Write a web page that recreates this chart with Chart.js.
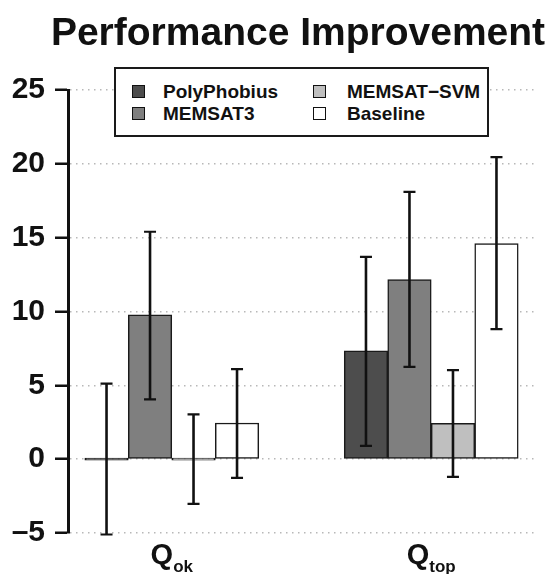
<!DOCTYPE html>
<html><head><meta charset="utf-8">
<script src="https://cdn.jsdelivr.net/npm/chart.js@4.4.1/dist/chart.umd.min.js"></script>
<style>
html,body{margin:0;padding:0;background:#fff;}
#wrap{position:relative;width:550px;height:574px;}
#legend{position:absolute;left:114px;top:67px;width:371px;height:66px;border:2px solid #1a1a1a;background:#fff;font:bold 19px "Liberation Sans",Arial,sans-serif;color:#111;}
#legend .txt{position:absolute;white-space:nowrap;line-height:19px;}
#legend .sw{position:absolute;width:11px;height:11px;border:1px solid #111;}
</style></head><body>
<div id="wrap"><canvas id="c"></canvas><div id="legend"></div></div>
<script>
const FONT = '"Liberation Sans", Arial, sans-serif';
const categoryLabels = ['Q', 'Q'];
const categorySubscripts = ['ok', 'top'];
const categoryPositions = [1, 2];
const seriesNames = ['PolyPhobius', 'MEMSAT3', 'MEMSAT\u2212SVM', 'Baseline'];
const seriesColors = ['#4d4d4d', '#7f7f7f', '#bfbfbf', '#ffffff'];
const polyPhobiusValues = [0, 7.33];
const polyPhobiusLower  = [-5.1, 0.9];
const polyPhobiusUpper  = [5.12, 13.7];
const memsat3Values = [9.78, 12.17];
const memsat3Lower  = [4.05, 6.25];
const memsat3Upper  = [15.4, 18.1];
const memsatSvmValues = [0, 2.42];
const memsatSvmLower  = [-3.03, -1.2];
const memsatSvmUpper  = [3.03, 6.03];
const baselineValues = [2.45, 14.6];
const baselineLower  = [-1.27, 8.8];
const baselineUpper  = [6.1, 20.45];
const yTickValues = [-5, 0, 5, 10, 15, 20, 25];
const yTickLabels = ['\u20135', '0', '5', '10', '15', '20', '25'];

const seriesValues = [polyPhobiusValues, memsat3Values, memsatSvmValues, baselineValues];
const seriesLower = [polyPhobiusLower, memsat3Lower, memsatSvmLower, baselineLower];
const seriesUpper = [polyPhobiusUpper, memsat3Upper, memsatSvmUpper, baselineUpper];

const datasets = seriesNames.map((name, i) => ({
  label: name,
  data: categoryPositions.map((x, j) => ({x: x, y: seriesValues[i][j]})),
  errLower: seriesLower[i],
  errUpper: seriesUpper[i],
  backgroundColor: seriesColors[i],
  borderColor: '#1a1a1a',
  borderWidth: 1.5,
  borderSkipped: false,
  barThickness: 43.5,
  minBarLength: 2
}));

const errorBars = {
  id: 'errorBars',
  afterDatasetsDraw(chart) {
    const ctx = chart.ctx, y = chart.scales.y;
    chart.data.datasets.forEach((ds, i) => {
      chart.getDatasetMeta(i).data.forEach((bar, j) => {
        const x = bar.x;
        const yl = y.getPixelForValue(ds.errLower[j]);
        const yu = y.getPixelForValue(ds.errUpper[j]);
        ctx.save();
        ctx.strokeStyle = '#111';
        ctx.lineWidth = 2.6;
        ctx.beginPath(); ctx.moveTo(x, yl); ctx.lineTo(x, yu); ctx.stroke();
        ctx.lineWidth = 2.2;
        ctx.beginPath();
        ctx.moveTo(x - 6, yl); ctx.lineTo(x + 6, yl);
        ctx.moveTo(x - 6, yu); ctx.lineTo(x + 6, yu);
        ctx.stroke();
        ctx.restore();
      });
    });
  }
};

const xLabels = {
  id: 'xLabels',
  afterDraw(chart) {
    const ctx = chart.ctx, xs = chart.scales.x;
    ctx.save();
    ctx.fillStyle = '#111';
    ctx.textBaseline = 'alphabetic';
    ctx.textAlign = 'left';
    categoryPositions.forEach((p, i) => {
      const cx = xs.getPixelForValue(p);
      ctx.font = 'bold 29px ' + FONT;
      const w1 = ctx.measureText(categoryLabels[i]).width;
      ctx.font = 'bold 17px ' + FONT;
      const w2 = ctx.measureText(categorySubscripts[i]).width;
      const start = cx - (w1 + w2) / 2;
      ctx.font = 'bold 29px ' + FONT;
      ctx.fillText(categoryLabels[i], start, 564);
      ctx.font = 'bold 17px ' + FONT;
      ctx.fillText(categorySubscripts[i], start + w1, 572);
    });
    ctx.restore();
  }
};

// centre the title over the plot region (as R does) instead of the whole canvas
const titleSpan = {
  id: 'titleSpan',
  afterLayout(chart) {
    const t = chart.titleBlock;
    if (t) { t.left = 50; t.right = 546; t.width = 496; }
  }
};

const chart = new Chart(document.getElementById('c'), {
  type: 'bar',
  data: {datasets: datasets},
  options: {
    responsive: true,
    maintainAspectRatio: false,
    animation: false,
    layout: {padding: {left: 2, right: 15, top: 0, bottom: 41}},
    plugins: {
      legend: {display: false},
      tooltip: {enabled: false},
      title: {
        display: true,
        text: 'Performance Improvement',
        color: '#111',
        font: {family: FONT, size: 39, weight: 'bold'},
        padding: {top: 11, bottom: 32.2}
      }
    },
    scales: {
      x: {type: 'linear', min: 0.6, max: 2.4, offset: false, display: false},
      y: {
        min: -5, max: 25,
        afterFit: (s) => { s.width = 66; },
        ticks: {
          stepSize: 5,
          autoSkip: false,
          callback: (v) => { const k = yTickValues.indexOf(Number(v)); return k >= 0 ? yTickLabels[k] : String(v); },
          font: {family: FONT, size: 30, weight: 'bold'},
          color: '#111',
          padding: 10
        },
        grid: {color: '#b8b8b8', lineWidth: 1.5, tickLength: 13, tickColor: '#111', tickWidth: 2.5, drawTicks: true},
        border: {display: true, color: '#111', width: 3, dash: [1.5, 4.5]}
      }
    }
  },
  plugins: [errorBars, xLabels, titleSpan]
});

// HTML legend built from the chart's own legend items, arranged in 2 columns x 2 rows
const legendEl = document.getElementById('legend');
const items = chart.options.plugins.legend.labels.generateLabels(chart);
const colX = [{sw: 16, tx: 47}, {sw: 197, tx: 231}];
const rowY = [{sw: 16, tx: 13}, {sw: 38, tx: 35}];
items.forEach((it, k) => {
  const col = k < 2 ? 0 : 1, row = k % 2;
  const sw = document.createElement('div');
  sw.className = 'sw';
  sw.style.left = colX[col].sw + 'px';
  sw.style.top = rowY[row].sw + 'px';
  sw.style.background = it.fillStyle;
  legendEl.appendChild(sw);
  const t = document.createElement('div');
  t.className = 'txt';
  t.style.left = colX[col].tx + 'px';
  t.style.top = rowY[row].tx + 'px';
  t.textContent = it.text;
  legendEl.appendChild(t);
});
</script>
</body></html>
